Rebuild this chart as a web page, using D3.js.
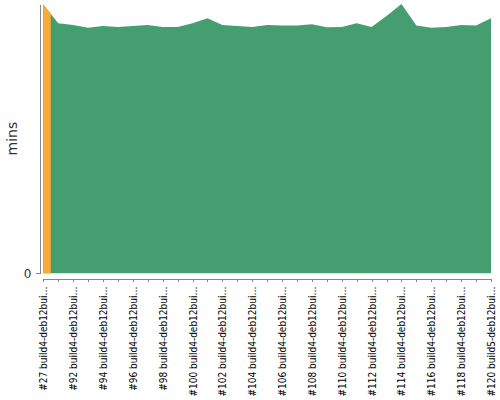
<!DOCTYPE html>
<meta charset="utf-8">
<style>
body { margin: 0; background: #fff; }
svg { display: block; }
.axis text { font-family: "DejaVu Sans", sans-serif; fill: #000; }
.axis path, .axis line { stroke: #888; shape-rendering: crispEdges; }
</style>
<svg width="500" height="400"></svg>
<script src="https://d3js.org/d3.v7.min.js"></script>
<script>

// builds along the x axis (text as drawn in the tick labels)
var builds = ["#27", "#91", "#92", "#93", "#94", "#95", "#96", "#97", "#98", "#99",
  "#100", "#101", "#102", "#103", "#104", "#105", "#106", "#107", "#108", "#109",
  "#110", "#111", "#112", "#113", "#114", "#115", "#116", "#117", "#118", "#119", "#120"];
var hosts = ["build4-deb12bui…", "build4-deb12bui…", "build4-deb12bui…", "build4-deb12bui…",
  "build4-deb12bui…", "build4-deb12bui…", "build4-deb12bui…", "build4-deb12bui…",
  "build4-deb12bui…", "build4-deb12bui…", "build4-deb12bui…", "build4-deb12bui…",
  "build4-deb12bui…", "build4-deb12bui…", "build4-deb12bui…", "build4-deb12bui…",
  "build4-deb12bui…", "build4-deb12bui…", "build4-deb12bui…", "build4-deb12bui…",
  "build4-deb12bui…", "build4-deb12bui…", "build4-deb12bui…", "build4-deb12bui…",
  "build4-deb12bui…", "build4-deb12bui…", "build4-deb12bui…", "build4-deb12bui…",
  "build4-deb12bui…", "build4-deb12bui…", "build5-deb12bui…"];

// build duration in minutes
var durations = [59.9, 55.7, 55.3, 54.7, 55.1, 54.9, 55.1, 55.3, 54.9, 54.9,
  55.7, 56.8, 55.3, 55.1, 54.9, 55.3, 55.2, 55.2, 55.5, 54.8,
  54.9, 55.7, 54.9, 57.3, 60.0, 55.2, 54.7, 54.9, 55.3, 55.2, 56.8];

// build result, drives the fill colour
var results = ["unstable", "success", "success", "success", "success", "success", "success",
  "success", "success", "success", "success", "success", "success", "success", "success",
  "success", "success", "success", "success", "success", "success", "success", "success",
  "success", "success", "success", "success", "success", "success", "success", "success"];

var yTicks = [0];

var svg = d3.select("svg"),
    plotLeft = 43.3, plotRight = 491, plotTop = 4, plotBottom = 273.3;

var data = builds.map(function(b, i) {
  return { i: i, label: b + " " + hosts[i], mins: durations[i], result: results[i] };
});

var x = d3.scalePoint().domain(d3.range(data.length)).range([plotLeft, plotRight]);
var y = d3.scaleLinear().domain([0, d3.max(durations)]).range([plotBottom, plotTop]);
var color = d3.scaleOrdinal().domain(["success", "unstable"]).range(["#459e6f", "#fbaa37"]);

var area = d3.area()
    .x(function(d) { return x(d.i); })
    .y0(y(0))
    .y1(function(d) { return y(d.mins); });

// base area in the common colour
svg.append("path")
    .datum(data)
    .attr("d", area)
    .attr("fill", color("success"));

// overlay the other results, clipped half way to the neighbouring builds
var step = x.step();
data.filter(function(d) { return d.result !== "success"; }).forEach(function(d) {
  var x0 = Math.max(plotLeft, x(d.i) - step / 2),
      x1 = Math.min(plotRight, x(d.i) + step / 2);
  svg.append("clipPath").attr("id", "clip" + d.i)
    .append("rect").attr("x", x0).attr("y", 0).attr("width", x1 - x0).attr("height", plotBottom + 1);
  svg.append("path")
      .datum(data)
      .attr("d", area)
      .attr("clip-path", "url(#clip" + d.i + ")")
      .attr("fill", color(d.result));
});

// y axis
var yAxis = svg.append("g")
    .attr("class", "axis")
    .attr("transform", "translate(39.5,0)")
    .call(d3.axisLeft(y).tickValues(yTicks).tickSize(4).tickSizeOuter(0).tickPadding(4));
yAxis.selectAll("text").style("font-size", "12px").style("fill", "#333");

svg.append("text")
    .attr("transform", "translate(17," + ((plotTop + plotBottom) / 2) + ") rotate(-90)")
    .attr("text-anchor", "middle")
    .style("font-family", "DejaVu Sans, sans-serif")
    .style("font-size", "14px")
    .style("fill", "#333")
    .text("mins");

// x axis
var xAxis = svg.append("g")
    .attr("class", "axis")
    .attr("transform", "translate(0,278.5)")
    .call(d3.axisBottom(x).tickSize(3).tickSizeOuter(0)
      .tickFormat(function(i) { return i % 2 === 0 ? data[i].label : ""; }));
xAxis.selectAll("text")
    .style("font-family", "'DejaVu Sans Condensed', 'DejaVu Sans', sans-serif")
    .style("font-size", "10px")
    .attr("text-anchor", "end")
    .attr("transform", "rotate(-90)")
    .attr("x", -8)
    .attr("y", 0)
    .attr("dy", "0.35em");

</script>
